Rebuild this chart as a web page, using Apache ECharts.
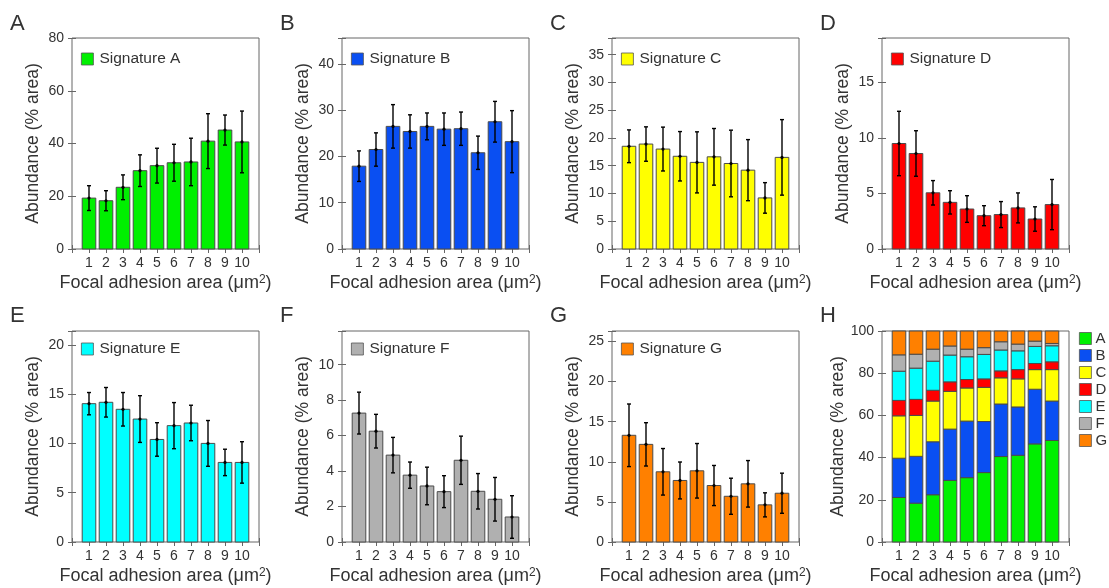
<!DOCTYPE html>
<html>
<head>
<meta charset="utf-8">
<script src="https://cdn.jsdelivr.net/npm/echarts@6/dist/echarts.min.js"></script>
<style>
  html, body { margin: 0; padding: 0; background: #fff; }
  #chart { width: 1109px; height: 588px; }
</style>
</head>
<body>
<div id="chart"></div>
<script>
// focal adhesion area bins (µm²)
const bins = [1, 2, 3, 4, 5, 6, 7, 8, 9, 10];

// mean abundance (% area) and error per signature
const meanA = [19.3, 18.3, 23.4, 29.7, 31.6, 32.7, 33.0, 40.9, 45.1, 40.6];
const errA  = [4.7, 3.8, 4.7, 6.0, 6.6, 7.0, 9.0, 10.4, 5.7, 11.7];
const meanB = [17.9, 21.5, 26.5, 25.4, 26.5, 25.9, 26.0, 20.8, 27.5, 23.2];
const errB  = [3.3, 3.6, 4.7, 3.6, 2.9, 3.5, 3.6, 3.6, 4.4, 6.7];
const meanC = [18.5, 18.9, 18.0, 16.7, 15.6, 16.6, 15.4, 14.2, 9.2, 16.5];
const errC  = [2.95, 3.1, 3.95, 4.45, 5.5, 5.1, 6.0, 5.5, 2.75, 6.8];
const meanD = [9.5, 8.6, 5.06, 4.2, 3.6, 3.0, 3.1, 3.7, 2.7, 4.0];
const errD  = [2.9, 2.05, 1.1, 1.05, 1.2, 0.9, 1.17, 1.35, 1.1, 2.26];
const meanE = [14.03, 14.17, 13.46, 12.47, 10.4, 11.8, 12.07, 10.0, 8.07, 8.07];
const errE  = [1.13, 1.5, 1.7, 2.37, 1.7, 2.34, 1.8, 2.32, 1.34, 2.1];
const meanF = [7.27, 6.25, 4.9, 3.77, 3.16, 2.84, 4.61, 2.86, 2.41, 1.41];
const errF  = [1.18, 0.95, 1.0, 0.74, 1.06, 0.9, 1.36, 1.0, 1.23, 1.2];
const meanG = [13.3, 12.17, 8.75, 7.67, 8.875, 7.04, 5.7, 7.25, 4.63, 6.08];
const errG  = [3.9, 2.7, 2.9, 2.3, 3.4, 2.5, 2.25, 2.9, 1.5, 2.5];

// panel H: share of each signature (% area), stacked A at the bottom
const shareA = [21.1, 18.4, 22.4, 29.2, 30.5, 32.9, 40.5, 41.1, 46.5, 48.1];
const shareB = [18.6, 22.2, 25.1, 24.3, 26.8, 24.2, 24.9, 22.9, 25.9, 18.7];
const shareC = [20.1, 19.4, 19.3, 17.9, 15.7, 16.2, 12.4, 13.3, 9.3, 14.9];
const shareD = [7.3, 7.6, 5.1, 4.5, 4.0, 4.0, 3.3, 4.4, 2.9, 3.7];
const shareE = [13.85, 14.8, 13.8, 12.7, 10.8, 11.6, 9.9, 8.9, 8.1, 7.6];
const shareF = [7.75, 6.6, 5.7, 4.3, 3.6, 3.2, 3.9, 3.2, 2.5, 1.1];
const shareG = [11.3, 11.0, 8.6, 7.1, 8.6, 7.9, 5.1, 6.2, 4.8, 5.9];

const sigNames  = ['A', 'B', 'C', 'D', 'E', 'F', 'G'];
const sigColors = ['#00f000', '#0a4ff2', '#ffff00', '#ff0000', '#00ffff', '#b0b0b0', '#ff8000'];

// y axis limits per panel (A..H)
const yMax  = [80, 45.6, 38, 19, 21.4, 11.9, 26.3, 100];
const yStep = [20, 10, 5, 5, 5, 2, 5, 20];

const means  = [meanA, meanB, meanC, meanD, meanE, meanF, meanG];
const errs   = [errA, errB, errC, errD, errE, errF, errG];
const shares = [shareA, shareB, shareC, shareD, shareE, shareF, shareG];

const FONT = '"Liberation Sans", Arial, Helvetica, sans-serif';
const TXT = '#333';
const BOX = '#666';

const colLeft = [72, 342, 612, 882];
const rowTop  = [38, 331];
const rowH    = [211, 211];
const legTop  = [51, 341];
const plotW   = 187;

function renderBar(color) {
    return function (params, api) {
        const x = api.value(0);
        const lo = api.value(1);
        const hi = api.value(2);
        const pTop = api.coord([x, hi]);
        const pBot = api.coord([x, lo]);
        const w = api.size([0.8, 0])[0];
        return {
            type: 'rect',
            shape: { x: pTop[0] - w / 2, y: pTop[1], width: w, height: pBot[1] - pTop[1] },
            style: { fill: color, stroke: '#4a4a4a', lineWidth: 1 }
        };
    };
}

function renderErr(params, api) {
    const x = api.value(0);
    const m = api.value(1);
    const e = api.value(2);
    const hi = api.coord([x, m + e]);
    const lo = api.coord([x, m - e]);
    const mid = api.coord([x, m]);
    const cap = 2;
    const ls = { stroke: '#000', lineWidth: 1.4 };
    return {
        type: 'group',
        children: [
            { type: 'line', shape: { x1: hi[0], y1: hi[1], x2: lo[0], y2: lo[1] }, style: ls },
            { type: 'line', shape: { x1: hi[0] - cap, y1: hi[1], x2: hi[0] + cap, y2: hi[1] }, style: ls },
            { type: 'line', shape: { x1: lo[0] - cap, y1: lo[1], x2: lo[0] + cap, y2: lo[1] }, style: ls },
            { type: 'circle', shape: { cx: mid[0], cy: mid[1], r: 1.6 }, style: { fill: '#000' } }
        ]
    };
}

const grids = [], xAxes = [], yAxes = [], series = [], legends = [], titles = [];
const letters = ['A', 'B', 'C', 'D', 'E', 'F', 'G', 'H'];

letters.forEach((letter, i) => {
    const row = i < 4 ? 0 : 1;
    const col = i % 4;
    const left = colLeft[col];
    grids.push({
        left: left, top: rowTop[row], width: plotW, height: rowH[row],
        show: true, borderColor: BOX, borderWidth: 1, backgroundColor: 'transparent'
    });
    titles.push({
        text: letter, left: left - 62, top: row === 0 ? 13 : 305, padding: 0,
        textStyle: { fontFamily: FONT, fontSize: 22, fontWeight: 'normal', color: TXT }
    });

    const step = yStep[i];
    const tickStyle = { inside: true, length: 4, lineStyle: { color: BOX, width: 1 } };
    const xBase = {
        gridIndex: i, type: 'value', min: 0, max: 11, interval: 1,
        axisLine: { show: false }, splitLine: { show: false }, axisTick: tickStyle
    };
    xAxes.push(Object.assign({}, xBase, {
        position: 'bottom',
        axisLabel: {
            fontFamily: FONT, fontSize: 14, color: TXT, margin: 7,
            formatter: v => (bins.indexOf(v) >= 0 ? String(v) : '')
        },
        name: 'Focal adhesion area (μm{s|2})', nameLocation: 'middle', nameGap: 25,
        nameTextStyle: {
            fontFamily: FONT, fontSize: 18, color: TXT,
            rich: { s: { fontFamily: FONT, fontSize: 12, color: TXT, verticalAlign: 'top' } }
        }
    }));
    xAxes.push(Object.assign({}, xBase, { position: 'top', axisLabel: { show: false } }));

    const yBase = {
        gridIndex: i, type: 'value', min: 0, max: yMax[i], interval: step,
        axisLine: { show: false }, splitLine: { show: false }, axisTick: tickStyle
    };
    yAxes.push(Object.assign({}, yBase, {
        position: 'left',
        axisLabel: {
            fontFamily: FONT, fontSize: 14, color: TXT, margin: 8,
            formatter: v => (Math.abs(v / step - Math.round(v / step)) < 1e-6 ? String(v) : '')
        },
        name: 'Abundance (% area)', nameLocation: 'middle', nameGap: 30,
        nameTextStyle: { fontFamily: FONT, fontSize: 17.5, color: TXT }
    }));
    yAxes.push(Object.assign({}, yBase, { position: 'right', axisLabel: { show: false } }));

    const xi = i * 2, yi = i * 2;

    if (i < 7) {
        const name = 'Signature ' + sigNames[i];
        series.push({
            type: 'custom', name: name, xAxisIndex: xi, yAxisIndex: yi,
            itemStyle: { color: sigColors[i] },
            renderItem: renderBar(sigColors[i]),
            encode: { x: 0, y: 2 },
            data: bins.map((b, k) => [b, 0, means[i][k]]),
            z: 2
        });
        series.push({
            type: 'custom', name: name + ' err', xAxisIndex: xi, yAxisIndex: yi,
            renderItem: renderErr,
            encode: { x: 0, y: 1 },
            data: bins.map((b, k) => [b, means[i][k], errs[i][k]]),
            z: 3
        });
        legends.push({
            data: [name], left: left + 9, top: legTop[row], padding: 0,
            icon: 'rect', itemWidth: 12, itemHeight: 12, itemGap: 4,
            itemStyle: { borderColor: '#555', borderWidth: 0.8 },
            selectedMode: false,
            textStyle: { fontFamily: FONT, fontSize: 15.5, color: TXT, padding: [0, 0, 0, 1] }
        });
    } else {
        // stacked shares
        const base = bins.map(() => 0);
        shares.forEach((arr, s) => {
            series.push({
                type: 'custom', name: sigNames[s], xAxisIndex: xi, yAxisIndex: yi,
                itemStyle: { color: sigColors[s] },
                renderItem: renderBar(sigColors[s]),
                encode: { x: 0, y: 2 },
                data: bins.map((b, k) => {
                    const lo = base[k];
                    base[k] += arr[k];
                    return [b, lo, base[k]];
                }),
                z: 2
            });
        });
        legends.push({
            data: sigNames.slice(), left: left + 197, top: 331, orient: 'vertical', padding: 0,
            icon: 'rect', itemWidth: 12, itemHeight: 12, itemGap: 2,
            itemStyle: { borderColor: '#555', borderWidth: 0.8 },
            selectedMode: false,
            textStyle: { fontFamily: FONT, fontSize: 15, color: TXT, padding: [0, 0, 0, -1] }
        });
    }
});

const chart = echarts.init(document.getElementById('chart'), null, { renderer: 'canvas' });
chart.setOption({
    backgroundColor: '#fff',
    animation: false,
    title: titles,
    grid: grids,
    xAxis: xAxes,
    yAxis: yAxes,
    legend: legends,
    series: series
});
</script>
</body>
</html>
